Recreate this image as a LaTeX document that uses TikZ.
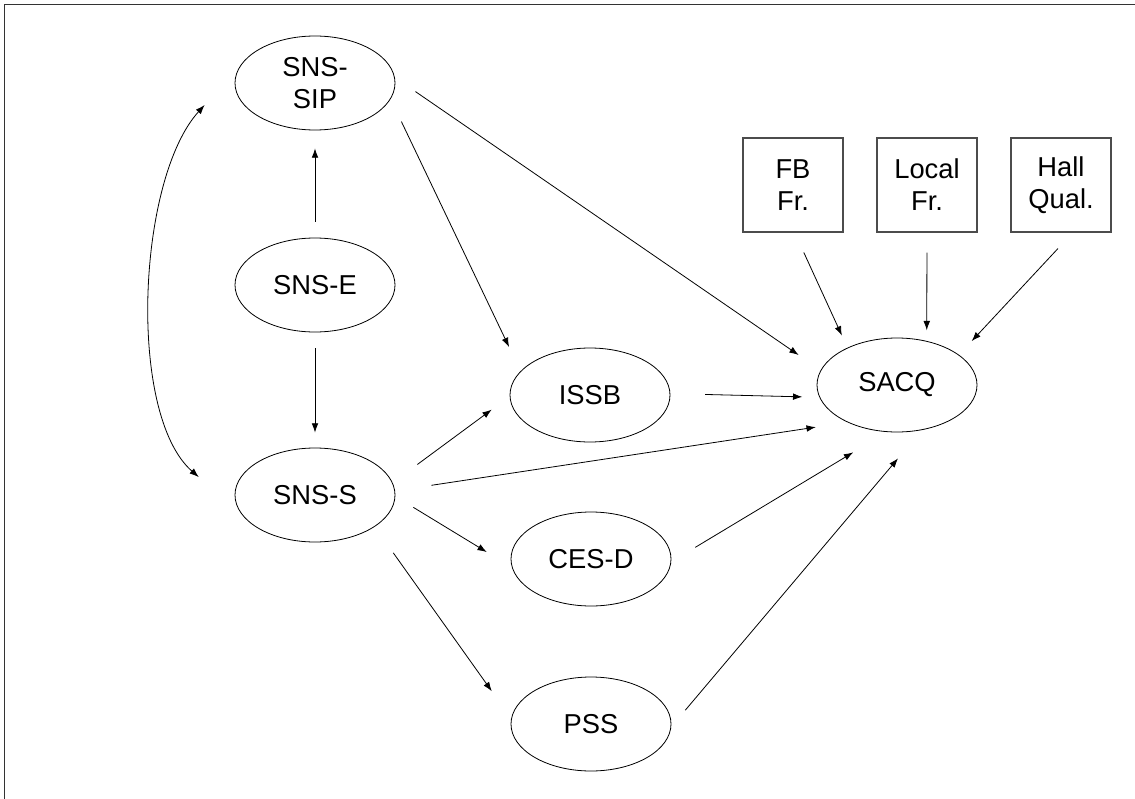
\documentclass[tikz,border=0pt]{standalone}
\usepackage{fontspec}
\setmainfont{Liberation Sans}
\usetikzlibrary{arrows.meta,shapes.geometric}
\begin{document}
\begin{tikzpicture}[x=0.75pt,y=-0.75pt,
  every node/.style={font=\fontsize{20.5}{24}\selectfont, align=center, inner sep=0pt},
  oval/.style={ellipse, draw, line width=0.6pt, minimum width=120pt, minimum height=70.5pt},
  box/.style={rectangle, draw=black!70, line width=0.8pt, minimum width=75pt, minimum height=70.5pt},
  link/.style={-{Latex[length=7pt,width=5pt]}, line width=0.6pt},
]
\useasboundingbox (0,0) rectangle (1135,799);
% outer frame (top and left edges)
\draw[line width=1.2pt, black!80] (4.5,799) -- (4.5,4.5) -- (1135,4.5);

% constructs
\node[oval] (sip)  at (315,83)  {SNS-\\SIP};
\node[oval] (e)    at (315,285) {SNS-E};
\node[oval] (s)    at (315,495) {SNS-S};
\node[oval] (issb) at (590,395) {ISSB};
\node[oval] (cesd) at (591,559) {CES-D};
\node[oval] (pss)  at (591,724) {PSS};
\node[oval] (sacq) at (897,385) {SACQ};
\node[box]  (fb)    at (793,185)  {FB\\Fr.};
\node[box]  (local) at (927,185)  {Local\\Fr.};
\node[box]  (hall)  at (1061,185) {Hall\\Qual.};

% paths
\draw[link, shorten <=12pt, shorten >=13.5pt] (e.north) -- (sip.south);
\draw[link, shorten <=12pt, shorten >=11.25pt] (e.south) -- (s.north);
\draw[{Latex[length=7pt,width=5pt]}-{Latex[length=7pt,width=5pt]}, line width=0.6pt,
      shorten <=38.6pt, shorten >=42.8pt]
  (sip.168) .. controls (137.2,179) and (127,414.5) .. (s.195);
\draw[link, shorten <=18.75pt, shorten >=20pt]  (sip.4)  -- (sacq.169);
\draw[link, shorten <=18.75pt, shorten >=20pt]  (sip.-12) -- (issb.161);
\draw[link, shorten <=26pt, shorten >=12.75pt]  (issb.1) -- (sacq.189);
\draw[link, shorten <=23pt, shorten >=16.7pt]   (s.9)    -- (issb.181);
\draw[link, shorten <=27.5pt, shorten >=24pt]   (s.3)    -- (sacq.217);
\draw[link, shorten <=15.8pt, shorten >=22pt]   (s.-1)   -- (cesd.186);
\draw[link, shorten <=24pt, shorten >=25pt]     (s.-28)  -- (pss.176);
\draw[link, shorten <=21pt, shorten >=29.6pt]   (cesd.-2) -- (sacq.258);
\draw[link, shorten <=16.3pt, shorten >=27.8pt] (pss.-2) -- (sacq.299);
\draw[link, shorten <=16.5pt, shorten >=10pt]   (fb.-88) -- (sacq.143);
\draw[link, shorten <=15pt, shorten >=8pt]      (local.south) -- (sacq.56);
\draw[link, shorten <=16.4pt, shorten >=14pt]   (hall.-76) -- (sacq.26);
\end{tikzpicture}
\end{document}
